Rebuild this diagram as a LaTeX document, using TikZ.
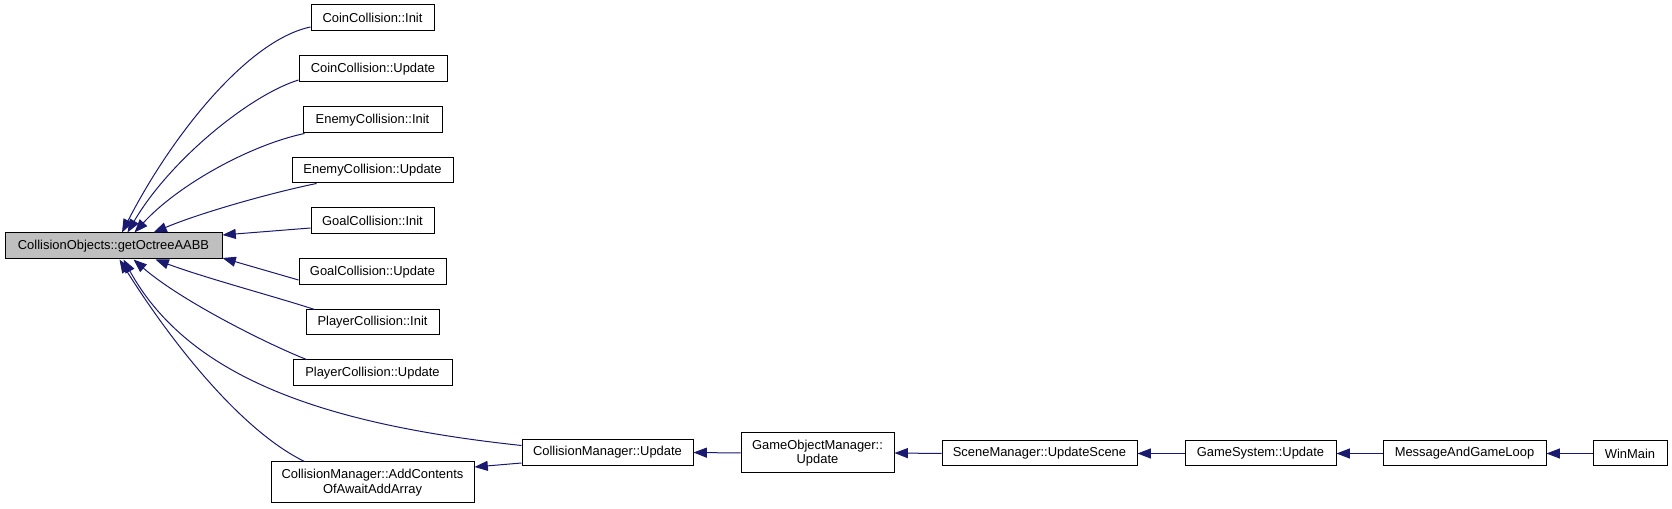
\documentclass[tikz,border=0pt]{standalone}
\usepackage{fontspec}
\setmainfont{Liberation Sans}
\usetikzlibrary{arrows.meta,calc}
\definecolor{edgeblue}{HTML}{191970}
\definecolor{hlgray}{HTML}{BFBFBF}
\begin{document}
\begin{tikzpicture}[x=0.75pt,y=-0.75pt,
  fn/.style args={#1/#2}{draw=black, line width=0.75pt, fill=white, inner sep=0pt,
    minimum width=#1*0.75pt, minimum height=#2*0.75pt,
    font=\fontsize{9.7}{11}\selectfont, align=center},
  edge/.style={draw=edgeblue, line width=0.75pt, -{Triangle[length=10pt,width=7.5pt]}}]
\useasboundingbox (0,0) rectangle (1672,509);

\node[fn=217/26, fill=hlgray] (go) at (113.5,246) {CollisionObjects::getOctreeAABB};
\node[fn=123/26] (ci) at (372.5,18) {CoinCollision::Init};
\node[fn=148/26] (cu) at (373,69) {CoinCollision::Update};
\node[fn=139/26] (ei) at (372.5,120) {EnemyCollision::Init};
\node[fn=161/25] (eu) at (372.5,170.5) {EnemyCollision::Update};
\node[fn=123/26] (gi) at (372.5,221) {GoalCollision::Init};
\node[fn=147/26] (gu) at (372.5,272) {GoalCollision::Update};
\node[fn=133/25] (pi) at (372.5,322.5) {PlayerCollision::Init};
\node[fn=159/26] (pu) at (372.5,373) {PlayerCollision::Update};
\node[fn=203/41] (ac) at (372.5,482.5) {CollisionManager::AddContents\\OfAwaitAddArray};
\node[fn=171/26] (cm) at (607.5,452.5) {CollisionManager::Update};
\node[fn=153/40] (gom) at (817.5,453) {GameObjectManager::\\Update};
\node[fn=195/25] (sm) at (1039.5,453.5) {SceneManager::UpdateScene};
\node[fn=151/25] (gs) at (1260.5,453.5) {GameSystem::Update};
\node[fn=163/25] (ml) at (1464.5,453.5) {MessageAndGameLoop};
\node[fn=74/25] (wm) at (1630,453.5) {WinMain};

\draw[edge] ($(ci.west)+(0,9)$) .. controls (248,40) and (172,135) .. ($(go.north)+(8.5,0)$);
\draw[edge] ($(cu.west)+(0,11)$) .. controls (250,95) and (170,160) .. ($(go.north)+(14,0)$);
\draw[edge] ($(ei.south west)+(2,0)$) .. controls (250,145) and (178,185) .. ($(go.north)+(21,0)$);
\draw[edge] ($(eu.south west)+(25,0)$) .. controls (270,193) and (200,213) .. ($(go.north)+(40,0)$);
\draw[edge] ($(gi.west)+(0,7)$) -- ($(go.east)+(0,-11)$);
\draw[edge] ($(gu.west)+(0,8)$) -- ($(go.east)+(0,12)$);
\draw[edge] ($(pi.north west)+(9,0)$) .. controls (280,298) and (205,278) .. ($(go.south)+(42,0)$);
\draw[edge] ($(pu.north west)+(14,0)$) .. controls (265,343) and (180,300) .. ($(go.south)+(20,0)$);
\draw[edge] ($(cm.west)+(0,-7)$) .. controls (330,425) and (190,380) .. ($(go.south)+(10,0)$);
\draw[edge] ($(ac.north west)+(34,0)$) .. controls (240,430) and (170,340) .. ($(go.south)+(6,0)$);
\draw[edge] ($(cm.west)+(0,10.5)$) -- ($(ac.east)+(0,-15.5)$);
\draw[edge] (gom.west) -- (cm.east);
\draw[edge] (sm.west) -- (gom.east);
\draw[edge] (gs.west) -- (sm.east);
\draw[edge] (ml.west) -- (gs.east);
\draw[edge] (wm.west) -- (ml.east);
\end{tikzpicture}
\end{document}
